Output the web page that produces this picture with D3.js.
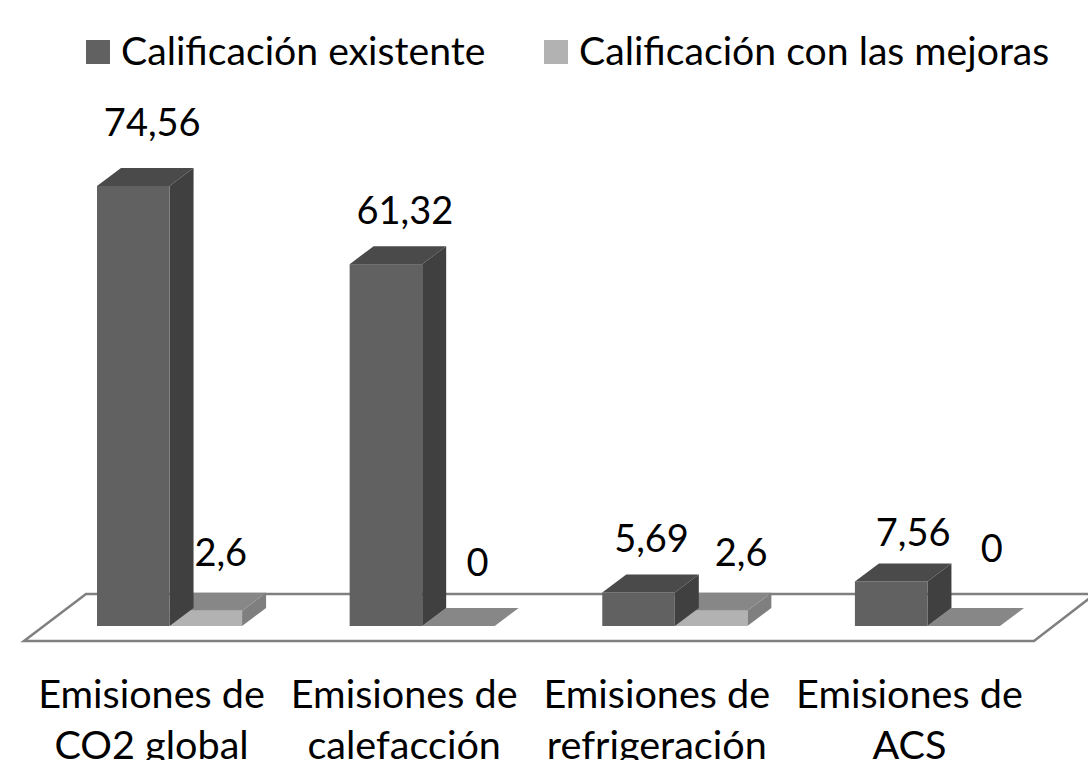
<!DOCTYPE html>
<html>
<head>
<meta charset="utf-8">
<script src="https://cdn.jsdelivr.net/npm/d3@7"></script>
<style>
  html, body { margin: 0; background: #fff; overflow: hidden; }
  text { font-family: Lato, "Noto Sans", sans-serif; fill: #000; }
</style>
</head>
<body>
<svg id="chart" width="1088" height="760"></svg>
<script>
const categories = [
  ["Emisiones de", "CO2 global"],
  ["Emisiones de", "calefacción"],
  ["Emisiones de", "refrigeración"],
  ["Emisiones de", "ACS"],
];
const seriesNames = ["Calificación existente", "Calificación con las mejoras"];
const existente = [74.56, 61.32, 5.69, 7.56];
const mejoras = [2.6, 0, 2.6, 0];

// hand placed in the original, so each label gets its own nudge from the bar top
const labelNudge = [
  [{ dx: -5, dy: -50 }, { dx: -9, dy: -45 }],
  [{ dx: -5, dy: -40 }, { dx: -5, dy: -50 }],
  [{ dx: -11, dy: -40 }, { dx: 6, dy: -45 }],
  [{ dx: -2, dy: -35 }, { dx: 4, dy: -64 }],
];

const faces = [
  { front: "#616161", side: "#404040", top: "#4a4a4a" },
  { front: "#b2b2b2", side: "#7f7f7f", top: "#878787" },
];
const depth = { x: 24, y: -18 };

const svg = d3.select("#chart");

const x0 = d3.scaleBand()
  .domain(d3.range(categories.length))
  .range([97, 1000])
  .paddingInner(0.4257);
const x1 = d3.scaleBand()
  .domain([0, 1])
  .range([0, x0.bandwidth()]);
const y = d3.scaleLinear().domain([0, 74.56]).range([626, 186]);

// floor
svg.append("path")
  .attr("d", "M24,641L86,594H1095L1034,641Z")
  .attr("fill", "#fff")
  .attr("stroke", "#808080")
  .attr("stroke-width", 2.5);

// bars, back series first so the front bar side overlaps correctly
const bars = [];
categories.forEach(function (c, i) {
  [existente[i], mejoras[i]].forEach(function (v, s) {
    bars.push({ i: i, s: s, value: v });
  });
});

const bar = svg.selectAll("g.bar")
  .data(bars.slice().sort((a, b) => b.s - a.s))
  .join("g")
  .attr("class", "bar");

bar.append("path")
  .attr("fill", (d) => faces[d.s].top)
  .attr("d", function (d) {
    let left = x0(d.i) + x1(d.s);
    let w = x1.bandwidth();
    let t = y(d.value);
    return `M${left},${t}l${depth.x},${depth.y}h${w}l${-depth.x},${-depth.y}Z`;
  });
bar.filter((d) => d.value > 0).append("path")
  .attr("fill", (d) => faces[d.s].side)
  .attr("d", function (d) {
    let right = x0(d.i) + x1(d.s) + x1.bandwidth();
    return `M${right},${y(d.value)}l${depth.x},${depth.y}V${y(0) + depth.y}l${-depth.x},${-depth.y}Z`;
  });
bar.filter((d) => d.value > 0).append("rect")
  .attr("fill", (d) => faces[d.s].front)
  .attr("x", (d) => x0(d.i) + x1(d.s))
  .attr("y", (d) => y(d.value))
  .attr("width", x1.bandwidth())
  .attr("height", (d) => y(0) - y(d.value));

// value labels
svg.selectAll("text.value")
  .data(bars)
  .join("text")
  .attr("class", "value")
  .attr("text-anchor", "middle")
  .attr("font-size", 38)
  .attr("x", (d) => x0(d.i) + x1(d.s) + x1.bandwidth() / 2 + depth.x + labelNudge[d.i][d.s].dx)
  .attr("y", (d) => y(d.value) + labelNudge[d.i][d.s].dy)
  .text((d) => String(d.value).replace(".", ","));

// category axis, labels sit left of the group centre
const axis = d3.axisBottom(x0).tickSize(0).tickFormat("");
const axisG = svg.append("g")
  .attr("transform", "translate(-18,660)")
  .call(axis);
axisG.select(".domain").remove();
axisG.selectAll(".tick text").remove();
axisG.selectAll(".tick").append("text")
  .attr("text-anchor", "middle")
  .attr("font-size", 39.6)
  .selectAll("tspan")
  .data((d) => categories[d])
  .join("tspan")
  .attr("x", 0)
  .attr("y", (d, i) => 48 + i * 51)
  .text((d) => d);

// legend
const legendX = [86, 544];
const legend = svg.selectAll("g.legend")
  .data(seriesNames)
  .join("g")
  .attr("class", "legend")
  .attr("transform", (d, i) => `translate(${legendX[i]},40)`);
legend.append("rect")
  .attr("width", 24)
  .attr("height", 24)
  .attr("fill", (d, i) => faces[i].front);
legend.append("text")
  .attr("x", 35)
  .attr("y", 25)
  .attr("font-size", 39.2)
  .text((d) => d);
</script>
</body>
</html>
